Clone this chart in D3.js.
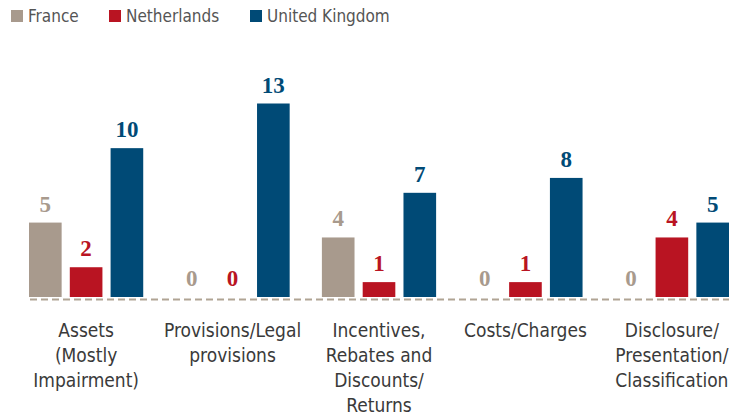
<!DOCTYPE html>
<html><head><meta charset="utf-8">
<script src="https://cdn.jsdelivr.net/npm/d3@7"></script>
<style>
body{margin:0;background:#fff;}
svg{display:block;}
.cat{font-family:"DejaVu Sans Condensed","DejaVu Sans",sans-serif;font-stretch:condensed;font-size:19px;fill:#3a3a3a;}
.leg{font-family:"DejaVu Sans Condensed","DejaVu Sans",sans-serif;font-stretch:condensed;font-size:17px;fill:#555;}
.val{font-family:"Liberation Serif","Times New Roman",serif;font-weight:bold;font-size:23px;}
</style></head>
<body>
<script>
const categories = [
  ["Assets","(Mostly","Impairment)"],
  ["Provisions/Legal","provisions"],
  ["Incentives,","Rebates and","Discounts/","Returns"],
  ["Costs/Charges"],
  ["Disclosure/","Presentation/","Classification"]
];
const seriesNames = ["France","Netherlands","United Kingdom"];
const colors = ["#a89a8d","#b91422","#004a76"];
const france = [5,0,4,0,0];
const netherlands = [2,0,1,1,4];
const unitedKingdom = [10,13,7,8,5];
const seriesValues = [france, netherlands, unitedKingdom];

const W = 741, H = 419;
const svg = d3.select("body").append("svg").attr("width",W).attr("height",H);

const x0 = d3.scaleBand().domain(d3.range(categories.length)).range([29,729]).paddingInner(0.22).paddingOuter(0);
const x1 = d3.scaleBand().domain(d3.range(seriesNames.length)).range([0,x0.bandwidth()]).paddingInner(0.2).paddingOuter(0);
const y = d3.scaleLinear().domain([0,13]).range([297,103.5]);

categories.forEach((c,i)=>{
  const g = svg.append("g").attr("transform",`translate(${x0(i)},0)`);
  seriesValues.forEach((vals,s)=>{
    const v = vals[i];
    if(v>0){
      g.append("rect").attr("x",x1(s)).attr("y",y(v)).attr("width",x1.bandwidth()).attr("height",y(0)-y(v)).attr("fill",colors[s]);
    }
    g.append("text").attr("class","val").attr("x",x1(s)+x1.bandwidth()/2).attr("y",y(v)-11)
      .attr("text-anchor","middle").attr("fill",colors[s]).text(v);
  });
});

svg.append("line").attr("x1",30).attr("x2",729).attr("y1",299.5).attr("y2",299.5)
  .attr("stroke","#b0a494").attr("stroke-width",2).attr("stroke-dasharray","7,4");

categories.forEach((lines,i)=>{
  const cx = x0(i)+x0.bandwidth()/2;
  const t = svg.append("text").attr("class","cat").attr("text-anchor","middle").attr("x",cx).attr("y",337);
  lines.forEach((l,j)=>t.append("tspan").attr("x",cx).attr("dy",j?25:0).text(l));
});

const legX = [11,109,250];
seriesNames.forEach((n,s)=>{
  svg.append("rect").attr("x",legX[s]).attr("y",10).attr("width",12).attr("height",12).attr("fill",colors[s]);
  svg.append("text").attr("class","leg").attr("x",legX[s]+17).attr("y",22).text(n);
});
</script>
</body></html>
